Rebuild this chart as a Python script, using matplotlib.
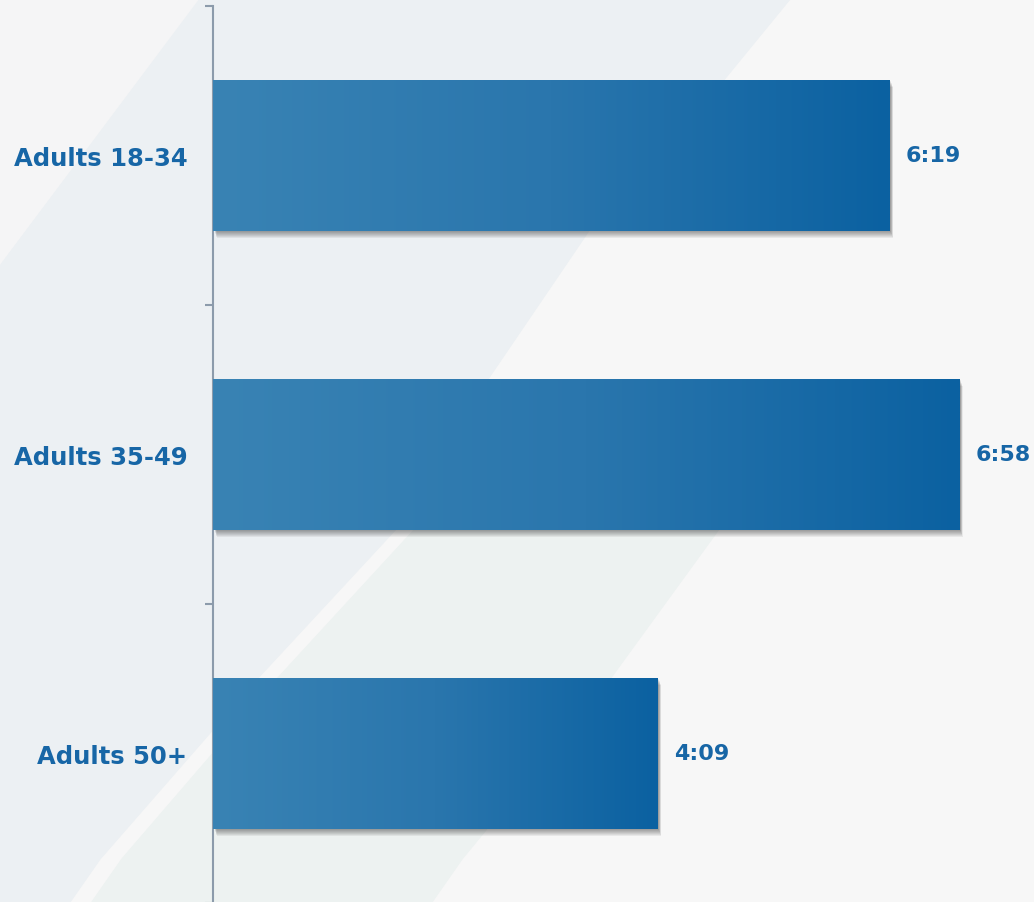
import numpy as np
import matplotlib
matplotlib.use("Agg")
import matplotlib.pyplot as plt
from matplotlib.colors import LinearSegmentedColormap
from matplotlib.patches import Polygon, Rectangle
import matplotlib.patheffects as pe

# average time spent, in seconds
groups = ["Adults 18-34", "Adults 35-49", "Adults 50+"]
seconds = [379, 418, 249]

TXT = "#1766a6"
FS = 17.5
fig = plt.figure(figsize=(10.34, 9.03), dpi=100)

# background decoration (pixel coords)
bg = fig.add_axes([0, 0, 1, 1])
bg.set_xlim(0, 1034)
bg.set_ylim(903, 0)
bg.axis("off")
bg.add_patch(Rectangle((0, 0), 1034, 903, color="#f7f7f7"))
bg.add_patch(Polygon([(0, 267), (200, 0), (0, 0)], color="#f5f5f6"))
blue_band = [(0, 267), (200, 0), (790, 0), (700, 110), (590, 230), (488, 380),
             (396, 530), (257, 680), (100, 860), (70, 903), (0, 903)]
bg.add_patch(Polygon(blue_band, color="#ecf0f3"))
green_band = [(410, 455), (790, 455), (719, 530), (610, 680), (462, 860), (432, 903),
              (92, 903), (122, 860), (277, 680), (415, 530)]
bg.add_patch(Polygon(green_band, color="#edf2f1"))

ax = fig.add_axes([213 / 1034, -1 / 903, 821 / 1034, 897 / 903])
ax.patch.set_alpha(0)

cmap = LinearSegmentedColormap.from_list("bar", ["#3983b4", "#2a76ad", "#0b61a1"])
grad = np.linspace(0, 1, 256).reshape(1, -1)
h = 0.505
bars = ax.barh(range(len(groups)), seconds, height=h, color="#2a76ad", zorder=2)
shadow = [pe.SimplePatchShadow(offset=(1.2 + 0.25 * k, -1.0 - 0.7 * k),
                               shadow_rgbFace="#000000", alpha=0.06) for k in range(7)]
for i, (b, s) in enumerate(zip(bars, seconds)):
    b.set_path_effects(shadow + [pe.Normal()])
    im = ax.imshow(grad, cmap=cmap, aspect="auto", extent=[0, s, i + h / 2, i - h / 2],
                   zorder=3, interpolation="bilinear")
    im.set_clip_path(b)
    ax.annotate(f"{s // 60}:{s % 60:02d}", xy=(s, i), xytext=(12, 0),
                textcoords="offset points", va="center", ha="left",
                fontsize=16, fontweight="bold", color=TXT, annotation_clip=False)

ax.set_xlim(0, 460)
ax.set_ylim(len(groups) - 0.5, -0.5)
ax.set_yticks(range(len(groups)))
ax.set_yticklabels(groups, fontsize=FS, fontweight="bold", color=TXT)
ax.set_yticks(np.arange(-0.5, len(groups), 1.0), minor=True)
ax.tick_params(axis="y", which="major", length=0, pad=18.5)
ax.tick_params(axis="y", which="minor", length=6, width=1.5, color="#8c9bab")
ax.set_xticks([])
for side in ["top", "right", "bottom"]:
    ax.spines[side].set_visible(False)
ax.spines["left"].set_color("#8c9bab")
ax.spines["left"].set_linewidth(1.5)

fig.savefig("out.png", dpi=100)
